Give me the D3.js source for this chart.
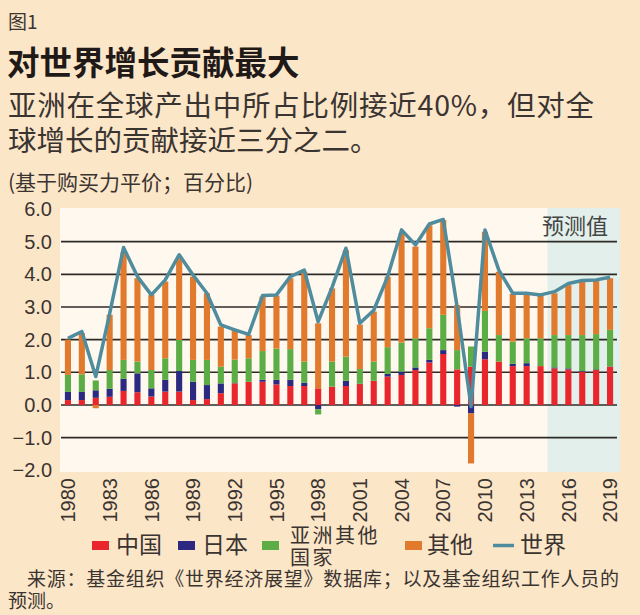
<!DOCTYPE html>
<html>
<head>
<meta charset="utf-8">
<script src="https://cdn.jsdelivr.net/npm/d3@7/dist/d3.min.js"></script>
<style>
  html, body { margin: 0; padding: 0; background: #fce6c8; }
  svg { display: block; }
  text { fill: #3a3431; }
</style>
</head>
<body>
<svg id="chart" width="640" height="615"></svg>
<script>
// ---------- data ----------
const years = d3.range(1980, 2020);
const china = [0.15,0.15,0.22,0.25,0.43,0.39,0.26,0.41,0.41,0.15,
               0.18,0.36,0.66,0.71,0.71,0.63,0.58,0.58,0.51,0.56,
               0.58,0.64,0.74,0.87,0.92,1.07,1.30,1.56,1.09,1.17,
               1.40,1.33,1.19,1.19,1.19,1.12,1.09,1.02,1.07,1.17];
const japan = [0.25,0.25,0.23,0.25,0.37,0.58,0.25,0.36,0.63,0.56,
               0.43,0.30,0.01,0.00,0.06,0.14,0.19,0.10,-0.13,0.00,
               0.16,0.01,0.00,0.08,0.10,0.08,0.08,0.12,-0.05,-0.26,
               0.23,0.00,0.07,0.09,0.00,0.03,0.03,0.02,0.02,0.01];
const otherAsia = [0.52,0.54,0.30,0.57,0.58,0.36,0.56,0.66,0.95,0.67,
                   0.77,0.51,0.72,0.72,0.88,0.96,0.94,0.65,-0.16,0.77,
                   0.74,0.45,0.59,0.82,0.89,0.89,0.97,1.08,0.59,0.62,
                   1.25,0.81,0.68,0.76,0.85,0.99,1.02,1.10,1.08,1.12];
const others = [1.08,1.26,-0.10,1.69,3.30,2.55,2.30,2.35,2.50,2.55,
                2.04,1.23,0.89,0.71,1.67,1.62,2.17,2.75,1.99,2.24,
                3.26,1.36,1.53,2.16,3.35,2.81,3.15,2.90,1.38,-1.53,
                2.42,1.94,1.46,1.33,1.30,1.28,1.53,1.64,1.64,1.58];
const world = [2.04,2.25,0.87,2.80,4.82,3.93,3.37,3.83,4.60,3.98,
               3.42,2.45,2.30,2.16,3.35,3.37,3.93,4.13,2.55,3.60,
               4.80,2.50,2.90,3.93,5.36,4.90,5.54,5.68,3.00,-0.05,
               5.36,4.13,3.42,3.42,3.37,3.47,3.72,3.81,3.83,3.91];
const seriesKeys = ["china", "japan", "otherAsia", "others"];
const seriesNames = ["中国", "日本", "亚洲其他国家", "其他"];
const seriesColors = ["#e8262b", "#2c2a80", "#5cad45", "#e27a2e"];
const worldName = "世界";
const worldColor = "#4f8c9d";
const yTicks = [-2, -1, 0, 1, 2, 3, 4, 5, 6];
const yearTicks = d3.range(1980, 2020, 3);
const forecastStart = 2015;

// ---------- build ----------
const svg = d3.select("#chart");
const plot = { left: 60, right: 620, top: 208, bottom: 472 };

const rows = years.map((y, i) => ({
  year: y, china: china[i], japan: japan[i], otherAsia: otherAsia[i], others: others[i], world: world[i]
}));

const x = d3.scaleBand().domain(years).range([61, 617]).paddingInner(0.56).paddingOuter(0.28);
const y = d3.scaleLinear().domain([-2, 6]).range([470.3, 209]);
const cx = d => x(d) + x.bandwidth() / 2;

// titles
const cjk = "'Noto Sans CJK SC', 'Noto Sans', sans-serif";
const lat = "'Liberation Sans', Arial, sans-serif";
svg.append("text").attr("x", 8).attr("y", 29).style("font-family", cjk).style("font-size", "19px").text("图1");
svg.append("text").attr("x", 7).attr("y", 75).style("font-family", cjk).style("font-size", "32.5px")
  .style("font-weight", "bold").style("fill", "#1f1a18").text("对世界增长贡献最大");
svg.append("text").attr("x", 8).attr("y", 116).style("font-family", cjk).style("font-size", "28.5px")
  .attr("textLength", 586).attr("lengthAdjust", "spacing")
  .text("亚洲在全球产出中所占比例接近40%，但对全");
svg.append("text").attr("x", 8).attr("y", 151).style("font-family", cjk).style("font-size", "28.5px")
  .text("球增长的贡献接近三分之二。");
svg.append("text").attr("x", 8).attr("y", 190).style("font-family", cjk).style("font-size", "21px")
  .text("(基于购买力平价；百分比)");

// plot backgrounds
svg.append("rect").attr("x", plot.left).attr("y", plot.top)
  .attr("width", plot.right - plot.left).attr("height", plot.bottom - plot.top).attr("fill", "#fef8ee");
const fx = x(forecastStart) - (x.step() - x.bandwidth()) / 2;
svg.append("rect").attr("x", fx).attr("y", plot.top)
  .attr("width", plot.right - fx).attr("height", plot.bottom - plot.top).attr("fill", "#e3efea");

// gridlines
svg.append("g").selectAll("line").data(yTicks.filter(t => t > -2 && t < 6)).join("line")
  .attr("x1", 61).attr("x2", 617).attr("y1", d => y(d)).attr("y2", d => y(d))
  .attr("stroke", "#2e2a28").attr("stroke-width", 1.6);

// y axis labels
const yAxis = d3.axisLeft(y).tickValues(yTicks).tickFormat(d3.format(".1f")).tickSize(0).tickPadding(0);
const gy = svg.append("g").attr("transform", "translate(52,0)").call(yAxis);
gy.select(".domain").remove();
gy.selectAll("text").style("font-family", lat).style("font-size", "20px").style("fill", "#3a3431");

// bars
const stack = d3.stack().keys(seriesKeys).offset(d3.stackOffsetDiverging);
const stacked = stack(rows);
svg.append("g").selectAll("g").data(stacked).join("g")
  .attr("fill", (d, i) => seriesColors[i])
  .selectAll("rect").data(d => d).join("rect")
  .attr("x", d => x(d.data.year))
  .attr("width", x.bandwidth())
  .attr("y", d => y(Math.max(d[0], d[1])))
  .attr("height", d => Math.abs(y(d[0]) - y(d[1])));

// world line
const line = d3.line().x(d => cx(d.year)).y(d => y(d.world));
svg.append("path").datum(rows).attr("d", line).attr("fill", "none")
  .attr("stroke", worldColor).attr("stroke-width", 3.5).attr("stroke-linejoin", "round");

// forecast label
svg.append("text").attr("x", 608).attr("y", 234).attr("text-anchor", "end")
  .style("font-family", cjk).style("font-size", "22px").style("fill", "#444").text("预测值");

// x axis labels
const xAxis = d3.axisBottom(x).tickValues(yearTicks).tickSize(0).tickPadding(0);
const gx = svg.append("g").attr("transform", "translate(0,478)").call(xAxis);
gx.select(".domain").remove();
gx.selectAll("text")
  .attr("transform", "rotate(-90)")
  .attr("x", 0).attr("y", 0).attr("dy", "0.36em")
  .attr("text-anchor", "end")
  .style("font-family", lat).style("font-size", "20px").style("fill", "#3a3431");

// legend
const legend = svg.append("g");
const legendItems = [
  { x: 92, tx: 116, i: 0 },
  { x: 178, tx: 202, i: 1 },
  { x: 262, tx: 290, i: 2 },
  { x: 405, tx: 427, i: 3 }
];
legendItems.forEach(it => {
  legend.append("rect").attr("x", it.x).attr("y", 541).attr("width", 17).attr("height", 9)
    .attr("fill", seriesColors[it.i]);
  if (it.i === 2) {
    legend.append("text").attr("x", it.tx).attr("y", 543).style("font-family", cjk).style("font-size", "20px")
      .style("letter-spacing", "2.5px")
      .text(seriesNames[2].slice(0, 4));
    legend.append("text").attr("x", it.tx).attr("y", 565).style("font-family", cjk).style("font-size", "20px")
      .style("letter-spacing", "2.5px")
      .text(seriesNames[2].slice(4));
  } else {
    legend.append("text").attr("x", it.tx).attr("y", 553).style("font-family", cjk).style("font-size", "23px")
      .text(seriesNames[it.i]);
  }
});
legend.append("line").attr("x1", 493).attr("x2", 514).attr("y1", 545.5).attr("y2", 545.5)
  .attr("stroke", worldColor).attr("stroke-width", 3.5);
legend.append("text").attr("x", 520).attr("y", 553).style("font-family", cjk).style("font-size", "23px").text(worldName);

// source
svg.append("text").attr("x", 27).attr("y", 586).style("font-family", cjk).style("font-size", "19px")
  .attr("textLength", 592).attr("lengthAdjust", "spacing")
  .text("来源：基金组织《世界经济展望》数据库；以及基金组织工作人员的");
svg.append("text").attr("x", 8).attr("y", 608).style("font-family", cjk).style("font-size", "19px").text("预测。");
</script>
</body>
</html>
